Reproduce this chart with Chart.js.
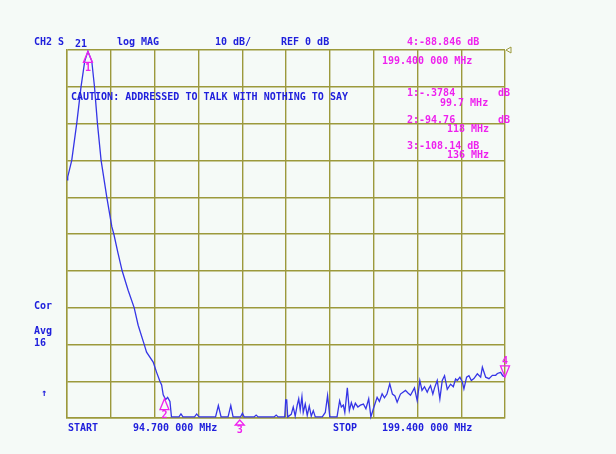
<!DOCTYPE html>
<html>
<head>
<meta charset="utf-8">
<script src="https://cdn.jsdelivr.net/npm/chart.js@4/dist/chart.umd.min.js"></script>
<style>
  html, body { margin: 0; padding: 0; background: #f5faf7; }
  #wrap { width: 616px; height: 454px; position: relative; }
</style>
</head>
<body>
<div id="wrap"><canvas id="chart"></canvas></div>
<script>
// trace (MHz / dB)
const freqs = [
  94.70, 94.87, 95.83, 97.02, 98.05, 98.94, 99.70, 100.62, 101.27, 101.98, 102.85, 104.21, 105.41,
  105.89, 106.85, 107.88, 109.31, 110.75, 111.71, 113.15, 113.72, 115.30, 116.12, 116.91, 117.32,
  117.70, 118.28, 118.75, 119.31, 119.67, 121.46, 121.94, 122.42, 125.18, 125.70, 126.25, 130.21,
  130.88, 131.53, 133.20, 133.85, 134.40, 136.20, 136.63, 137.04, 139.43, 139.91, 140.39, 144.22,
  144.70, 145.18, 146.74, 146.98, 147.22, 147.46, 148.30, 148.78, 149.25, 149.73, 150.09, 150.45,
  150.86, 151.17, 151.65, 152.13, 152.61, 153.09, 153.57, 154.05, 155.72, 156.44, 156.99, 157.52,
  159.25, 159.87, 160.28, 160.75, 161.11, 161.71, 162.19, 162.67, 163.15, 163.63, 164.23, 164.83,
  165.55, 166.15, 166.82, 167.34, 167.94, 168.83, 169.38, 170.03, 170.58, 171.18, 171.85, 172.49,
  173.09, 173.62, 174.41, 175.01, 175.61, 176.21, 176.81, 177.76, 178.41, 179.04, 179.56, 180.16,
  180.81, 181.19, 181.60, 182.15, 182.56, 183.20, 183.83, 184.40, 184.95, 185.60, 186.39, 187.04,
  187.59, 188.00, 188.62, 189.20, 189.58, 190.22, 190.78, 191.35, 191.97, 192.79, 193.58, 193.99,
  194.78, 195.57, 196.38, 197.17, 197.58, 198.37, 198.85, 199.40
];
const dbs = [
  -35.3, -34.5, -30.0, -20.0, -10.0, -3.0, -0.38, -3.0, -10.0, -20.0, -30.0, -40.0, -48.0,
  -50.0, -55.0, -60.0, -65.3, -70.0, -74.8, -80.0, -82.1, -84.8, -87.6, -90.0, -91.0,
  -93.7, -95.0, -94.4, -95.5, -99.7, -99.7, -98.9, -99.7, -99.7, -98.9, -99.7, -99.7,
  -96.6, -99.7, -99.7, -96.6, -99.7, -99.7, -98.7, -99.7, -99.7, -99.2, -99.7, -99.7,
  -99.2, -99.7, -99.7, -95.1, -95.1, -99.7, -99.0, -97.0, -99.5, -96.5, -94.8, -97.8,
  -94.2, -98.5, -96.2, -99.3, -96.8, -99.5, -98.0, -99.7, -99.7, -98.5, -93.9, -99.7,
  -99.7, -95.3, -97.0, -96.5, -98.5, -91.8, -98.0, -95.8, -97.5, -96.0, -97.0, -96.5,
  -96.2, -97.5, -94.8, -99.7, -97.5, -94.4, -95.5, -93.4, -94.5, -93.5, -90.7, -93.5,
  -94.0, -95.7, -93.5, -93.0, -92.5, -93.2, -93.8, -91.8, -95.3, -89.8, -92.5, -91.5,
  -93.0, -92.0, -91.2, -93.5, -91.8, -89.8, -94.8, -89.8, -88.5, -92.2, -90.8, -91.5,
  -89.4, -89.8, -88.9, -90.2, -92.1, -88.9, -88.5, -89.8, -89.3, -88.0, -88.9, -86.2,
  -88.9, -89.3, -88.4, -88.4, -87.9, -87.6, -88.5, -88.85
];

// markers
const markerNames = ['1', '2', '3', '4'];
const markerFreqs = [99.7, 118, 136, 199.4];
const markerDb = [-0.3784, -94.76, -108.14, -88.846];

const startMHz = 94.7;
const stopMHz = 199.4;
const refDb = 0;
const dbPerDiv = 10;

const BLUE = '#2020dc';
const MAG = '#ee22ee';
const GRID = '#9c993c';
const FONT = 'bold 10px "DejaVu Sans Mono"';

const points = freqs.map((f, i) => ({ x: f, y: dbs[i] }));

// marker triangles
const markerPlugin = {
  id: 'markers',
  afterDatasetsDraw(chart) {
    const ctx = chart.ctx;
    const xs = chart.scales.x, ys = chart.scales.y;
    ctx.save();
    ctx.strokeStyle = MAG;
    ctx.fillStyle = MAG;
    ctx.lineWidth = 1.3;
    ctx.font = FONT;
    ctx.textAlign = 'center';
    ctx.textBaseline = 'middle';
    markerNames.forEach((n, i) => {
      const px = xs.getPixelForValue(markerFreqs[i]);
      const clipped = markerDb[i] < ys.min;
      const py = ys.getPixelForValue(Math.max(markerDb[i], ys.min));
      ctx.beginPath();
      if (n === '4') {
        ctx.moveTo(px, py);
        ctx.lineTo(px - 4.5, py - 11);
        ctx.lineTo(px + 4.5, py - 11);
        ctx.closePath();
        ctx.stroke();
        ctx.fillText(n, px, py - 16);
      } else if (clipped) {
        ctx.moveTo(px, py + 2);
        ctx.lineTo(px - 4.5, py + 7);
        ctx.lineTo(px + 4.5, py + 7);
        ctx.closePath();
        ctx.stroke();
        ctx.fillText(n, px, py + 12);
      } else {
        ctx.moveTo(px, py);
        ctx.lineTo(px - 4.5, py + 11);
        ctx.lineTo(px + 4.5, py + 11);
        ctx.closePath();
        ctx.stroke();
        ctx.fillText(n, px, py + 17);
      }
    });
    // reference level mark
    const ry = ys.getPixelForValue(refDb);
    const rx = chart.chartArea.right;
    ctx.strokeStyle = GRID;
    ctx.lineWidth = 1;
    ctx.beginPath();
    ctx.moveTo(rx + 1, ry);
    ctx.lineTo(rx + 6, ry - 3);
    ctx.lineTo(rx + 6, ry + 3);
    ctx.closePath();
    ctx.stroke();
    ctx.restore();
  }
};

// screen annotations
const textPlugin = {
  id: 'labels',
  afterDraw(chart) {
    const ctx = chart.ctx;
    ctx.save();
    ctx.font = FONT;
    ctx.textBaseline = 'middle';
    ctx.textAlign = 'left';
    const put = (t, x, y, c) => { ctx.fillStyle = c; ctx.fillText(t, x, y); };
    put('CH2 S', 34, 42, BLUE);
    put('21', 75, 44, BLUE);
    put('log MAG', 117, 42, BLUE);
    put('10 dB/', 215, 42, BLUE);
    put('REF 0 dB', 281, 42, BLUE);
    put('CAUTION: ADDRESSED TO TALK WITH NOTHING TO SAY', 71, 97, BLUE);
    put('Cor', 34, 306, BLUE);
    put('Avg', 34, 331, BLUE);
    put('16', 34, 343, BLUE);
    put('\u2191', 41, 393, BLUE);
    put('START', 68, 428, BLUE);
    put('94.700 000 MHz', 133, 428, BLUE);
    put('STOP', 333, 428, BLUE);
    put('199.400 000 MHz', 382, 428, BLUE);

    put('4:-88.846 dB', 407, 42, MAG);
    put('199.400 000 MHz', 382, 61, MAG);
    put('1:-.3784', 407, 93, MAG);
    put('dB', 498, 93, MAG);
    put('99.7 MHz', 440, 103, MAG);
    put('2:-94.76', 407, 120, MAG);
    put('dB', 498, 120, MAG);
    put('118 MHz', 447, 129, MAG);
    put('3:-108.14 dB', 407, 146, MAG);
    put('136 MHz', 447, 155, MAG);
    ctx.restore();
  }
};

new Chart(document.getElementById('chart'), {
  type: 'line',
  data: {
    datasets: [{
      data: points,
      borderColor: '#3535e6',
      borderWidth: 1.3,
      pointRadius: 0,
      tension: 0,
      clip: 3,
    }],
  },
  options: {
    responsive: true,
    maintainAspectRatio: false,
    animation: false,
    events: [],
    layout: { padding: { left: 67, top: 50, right: 111, bottom: 36 } },
    plugins: { legend: { display: false }, tooltip: { enabled: false } },
    scales: {
      x: {
        type: 'linear',
        min: startMHz,
        max: stopMHz,
        ticks: { display: false, count: 11 },
        grid: { color: GRID, lineWidth: 1.4, drawTicks: false },
        border: { color: GRID, width: 1.4 },
      },
      y: {
        min: refDb - 10 * dbPerDiv,
        max: refDb,
        ticks: { display: false, count: 11 },
        grid: { color: GRID, lineWidth: 1.4, drawTicks: false },
        border: { color: GRID, width: 1.4 },
      },
    },
  },
  plugins: [markerPlugin, textPlugin],
});
</script>
</body>
</html>
